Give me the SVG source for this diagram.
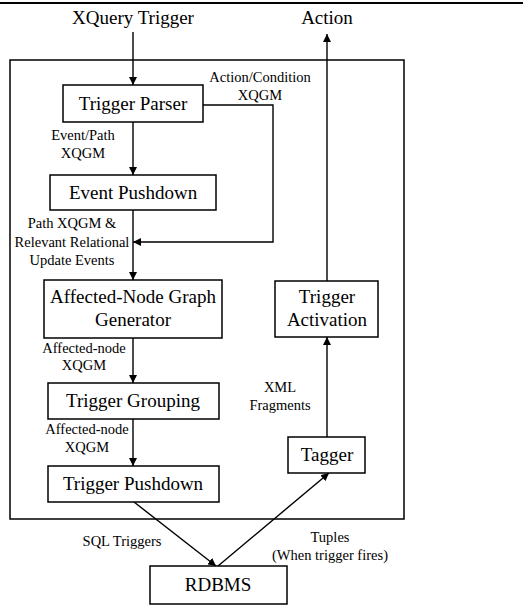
<svg xmlns="http://www.w3.org/2000/svg" width="523" height="605" viewBox="0 0 523 605" font-family="Times New Roman, serif">
<defs>
<marker id="ah" viewBox="0 0 10 10" refX="10" refY="5" markerWidth="8" markerHeight="8" markerUnits="userSpaceOnUse" orient="auto">
<path d="M0,0 L10,5 L0,10 z" fill="#000"/>
</marker>
</defs>
<rect width="523" height="605" fill="#fff"/>
<line x1="0" y1="3" x2="523" y2="3" stroke="#000" stroke-width="1.8"/>
<rect id="frame" x="10" y="60" width="394" height="459" fill="none" stroke="#000" stroke-width="1.5"/>
<g id="connectors" fill="none" stroke="#000" stroke-width="1.4">
<line x1="133" y1="32" x2="133" y2="85" marker-end="url(#ah)"/>
<polyline points="203,105 273,105 273,242 133,242" marker-end="url(#ah)"/>
<line x1="133" y1="122" x2="133" y2="175" marker-end="url(#ah)"/>
<line x1="133" y1="210" x2="133" y2="280" marker-end="url(#ah)"/>
<line x1="133" y1="338" x2="133" y2="383" marker-end="url(#ah)"/>
<line x1="133" y1="419" x2="133" y2="466" marker-end="url(#ah)"/>
<line x1="134" y1="502" x2="216" y2="566" marker-end="url(#ah)"/>
<line x1="218" y1="566" x2="329" y2="473" marker-end="url(#ah)"/>
<line x1="327" y1="437" x2="327" y2="337" marker-end="url(#ah)"/>
<line x1="327" y1="281" x2="327" y2="34" marker-end="url(#ah)"/>
</g>
<g id="labels" text-anchor="middle" fill="#000">
<text x="133" y="24" font-family="Times New Roman, serif" font-size="19">XQuery Trigger</text>
<text x="327" y="24" font-family="Times New Roman, serif" font-size="19">Action</text>
<text x="260" y="82" font-family="Times New Roman, serif" font-size="14.5">Action/Condition</text>
<text x="260" y="100" font-family="Times New Roman, serif" font-size="14.5">XQGM</text>
<text x="83" y="140" font-family="Times New Roman, serif" font-size="14.5">Event/Path</text>
<text x="83" y="158" font-family="Times New Roman, serif" font-size="14.5">XQGM</text>
<text x="72" y="228" font-family="Times New Roman, serif" font-size="14.5">Path XQGM &amp;</text>
<text x="72" y="247" font-family="Times New Roman, serif" font-size="14.5">Relevant Relational</text>
<text x="72" y="265" font-family="Times New Roman, serif" font-size="14.5">Update Events</text>
<text x="84" y="353" font-family="Times New Roman, serif" font-size="14.5">Affected-node</text>
<text x="84" y="370" font-family="Times New Roman, serif" font-size="14.5">XQGM</text>
<text x="87" y="434" font-family="Times New Roman, serif" font-size="14.5">Affected-node</text>
<text x="87" y="452" font-family="Times New Roman, serif" font-size="14.5">XQGM</text>
<text x="280" y="392" font-family="Times New Roman, serif" font-size="14.5">XML</text>
<text x="280" y="410" font-family="Times New Roman, serif" font-size="14.5">Fragments</text>
<text x="122" y="546" font-family="Times New Roman, serif" font-size="14.5">SQL Triggers</text>
<text x="330" y="542" font-family="Times New Roman, serif" font-size="14.5">Tuples</text>
<text x="330" y="560" font-family="Times New Roman, serif" font-size="14.5">(When trigger fires)</text>
</g>
<g id="trigger-parser" text-anchor="middle">
<rect x="63" y="85" width="140" height="37" fill="#fff" stroke="#000" stroke-width="1.5"/>
<text x="133" y="110" font-family="Times New Roman, serif" font-size="19">Trigger Parser</text>
</g>
<g id="event-pushdown" text-anchor="middle">
<rect x="50" y="175" width="166" height="35" fill="#fff" stroke="#000" stroke-width="1.5"/>
<text x="133" y="199" font-family="Times New Roman, serif" font-size="19">Event Pushdown</text>
</g>
<g id="affected-node-graph-generator" text-anchor="middle">
<rect x="44" y="280" width="178" height="58" fill="#fff" stroke="#000" stroke-width="1.5"/>
<text x="133" y="303" font-family="Times New Roman, serif" font-size="19">Affected-Node Graph</text>
<text x="133" y="326" font-family="Times New Roman, serif" font-size="19">Generator</text>
</g>
<g id="trigger-grouping" text-anchor="middle">
<rect x="48" y="383" width="171" height="36" fill="#fff" stroke="#000" stroke-width="1.5"/>
<text x="133" y="407" font-family="Times New Roman, serif" font-size="19">Trigger Grouping</text>
</g>
<g id="trigger-pushdown" text-anchor="middle">
<rect x="48" y="466" width="171" height="36" fill="#fff" stroke="#000" stroke-width="1.5"/>
<text x="133" y="490" font-family="Times New Roman, serif" font-size="19">Trigger Pushdown</text>
</g>
<g id="trigger-activation" text-anchor="middle">
<rect x="275" y="281" width="103" height="56" fill="#fff" stroke="#000" stroke-width="1.5"/>
<text x="327" y="303" font-family="Times New Roman, serif" font-size="19">Trigger</text>
<text x="327" y="326" font-family="Times New Roman, serif" font-size="19">Activation</text>
</g>
<g id="tagger" text-anchor="middle">
<rect x="288" y="437" width="77" height="36" fill="#fff" stroke="#000" stroke-width="1.5"/>
<text x="327" y="461" font-family="Times New Roman, serif" font-size="19">Tagger</text>
</g>
<g id="rdbms" text-anchor="middle">
<rect x="150" y="566" width="137" height="38" fill="#fff" stroke="#000" stroke-width="1.5"/>
<text x="218" y="591" font-family="Times New Roman, serif" font-size="19">RDBMS</text>
</g>
</svg>
